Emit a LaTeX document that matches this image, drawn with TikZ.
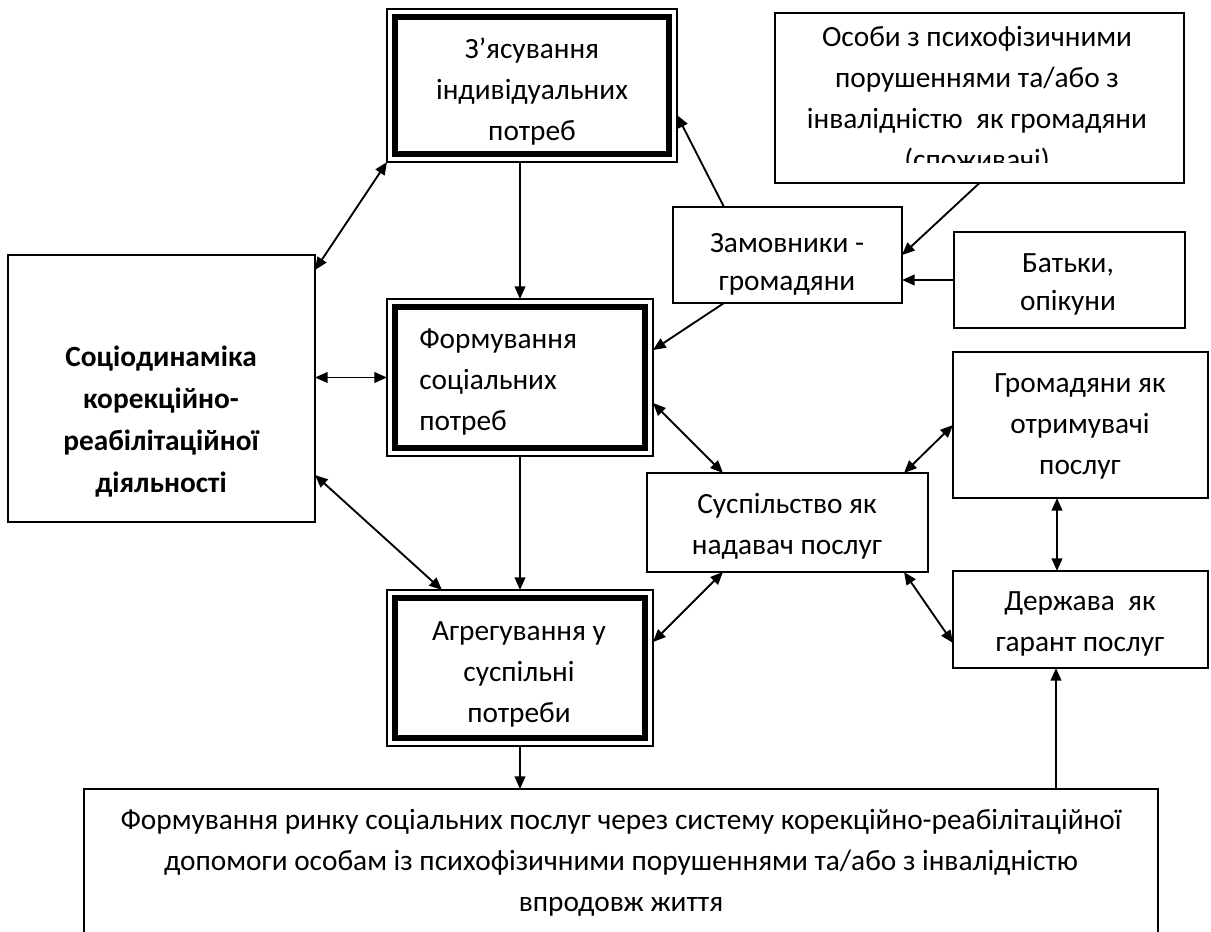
\documentclass[tikz,border=0pt]{standalone}
\usepackage{fontspec}
\setmainfont{Carlito}
\usetikzlibrary{arrows.meta,calc,fit}
\begin{document}
\begin{tikzpicture}[x=0.75pt,y=-0.75pt,
  box/.style={draw,line width=1.1pt,inner sep=0pt,outer sep=0pt},
  thickframe/.style={line width=4.9pt},
  txt/.style={align=center,anchor=base,inner sep=0pt,font=\fontsize{22}{30.75}\selectfont},
  txtn/.style={align=center,anchor=base,inner sep=0pt,font=\fontsize{22}{28.5}\selectfont},
  arr/.style={line width=1.4pt,-{Triangle[length=9.5pt,width=8pt]}},
  darr/.style={line width=1.4pt,{Triangle[length=9.5pt,width=8pt]}-{Triangle[length=9.5pt,width=8pt]}}]
\fill[white] (0,0) rectangle (1211,932);
\useasboundingbox (0,0) rectangle (1211,932);

% boxes
\node[box,fit={(387,9) (677,162)}] (A) {};
\node[box,fit={(775,13) (1184,183)}] (Os) {};
\node[box,fit={(673,207) (902,303)}] (Zam) {};
\node[box,fit={(954,232) (1185,328)}] (Bk) {};
\node[box,fit={(8,255) (315,522)}] (S) {};
\node[box,fit={(387,299) (653,456)}] (B) {};
\node[box,fit={(387,590) (653,746)}] (C) {};
\node[box,fit={(647,473) (928,572)}] (Su) {};
\node[box,fit={(953,352) (1208,498)}] (H) {};
\node[box,fit={(953,571) (1208,668)}] (D) {};
\node[box,fit={(84,789) (1158,960)}] (Bot) {};

% thick inner frames
\draw[thickframe] ([shift={(8,8)}]A.north west) rectangle ([shift={(-8,-8)}]A.south east);
\draw[thickframe] ([shift={(8,8)}]B.north west) rectangle ([shift={(-8,-8)}]B.south east);
\draw[thickframe] ([shift={(8,8)}]C.north west) rectangle ([shift={(-8,-8)}]C.south east);

% texts (anchor = baseline of the last line)
\node[txt] (tA) at (532,140) {З’ясування\\індивідуальних\\потреб};
\begin{scope}
\clip (776,14) rectangle (1183,162);
\node[txt] (tOs) at (977,169) {Особи з психофізичними\\порушеннями та/або з\\інвалідністю~ як громадяни\\(споживачі)};
\end{scope}
\node[txtn] (tZam) at (787,290) {Замовники -\\громадяни};
\node[txtn] (tBk) at (1068,310) {Батьки,\\опікуни};
\node[txt,font=\fontsize{22}{31.5}\selectfont\bfseries] (tS) at (161,492) {Соціодинаміка\\корекційно-\\реабілітаційної\\діяльності};
\node[txt,align=left,anchor=base west] (tB) at (419,430) {Формування\\соціальних\\потреб};
\node[txt] (tC) at (519,722) {Агрегування у\\суспільні\\потреби};
\node[txt] (tSu) at (787,554) {Суспільство як\\надавач послуг};
\node[txt] (tH) at (1080,474) {Громадяни як\\отримувачі\\послуг};
\node[txt] (tD) at (1080,651) {Держава~ як\\гарант послуг};
\node[txt] (tBot) at (621,911) {Формування ринку соціальних послуг через систему корекційно-реабілітаційної\\допомоги особам із психофізичними порушеннями та/або з інвалідністю\\впродовж життя};

% connectors
\draw[arr] (A.south -| B.north) -- (B.north);
\draw[arr] (B.south) -- (C.north);
\draw[arr] (C.south) -- (C.south |- Bot.north);
\draw[arr] ($(Bot.north west)+(972,0)$) -- ($(D.south west)+(103,0)$);
\draw[darr] ($(H.south west)+(104,0)$) -- ($(D.north west)+(104,0)$);
\draw[darr] ($(S.north east)+(0,15)$) -- (A.south west);
\draw[darr] (B.west -| S.east) -- (B.west);
\draw[darr] ($(S.south east)+(0,-47)$) -- ($(C.north west)+(55,0)$);
\draw[arr] ($(Zam.north west)+(51,0)$) -- ($(A.north east)+(0,106)$);
\draw[arr] (Os.south) -- (Zam.east);
\draw[arr] (Bk.west) -- (Bk.west -| Zam.east);
\draw[arr] ($(Zam.south west)+(51,0)$) -- ($(B.north east)+(0,51)$);
\draw[darr] ($(B.south east)+(0,-53)$) -- ($(Su.north west)+(76,0)$);
\draw[darr] ($(Su.north east)+(-24,0)$) -- (H.west);
\draw[darr] ($(Su.south west)+(76,0)$) -- ($(C.north east)+(0,52)$);
\draw[darr] ($(Su.south east)+(-24,0)$) -- ($(D.south west)+(0,-25)$);
\end{tikzpicture}
\end{document}
